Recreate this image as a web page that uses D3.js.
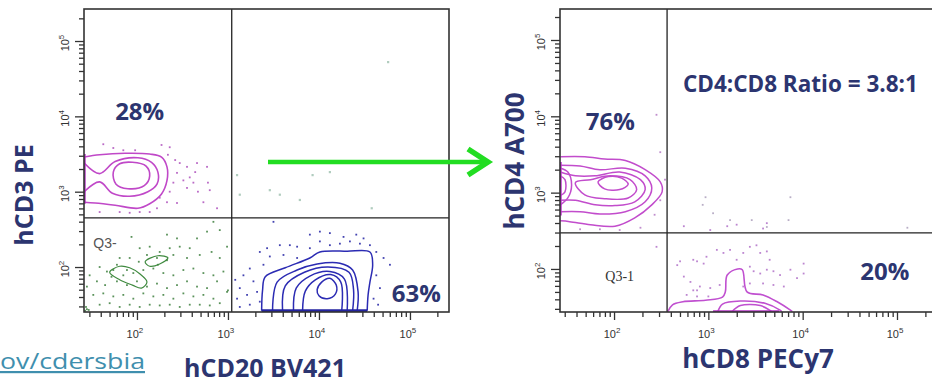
<!DOCTYPE html>
<html><head><meta charset="utf-8">
<script src="https://cdn.jsdelivr.net/npm/d3@7"></script>
<style>body{margin:0;background:#fff;} svg{display:block;}</style>
</head><body>
<svg id="c" width="932" height="384"></svg>
<script>
// ---------------- DATA (log10 fluorescence intensities) ----------------
const majorTicks = [100, 1000, 10000, 100000];
const majorTickExponents = ["2", "3", "4", "5"];
const minorMultipliers = [2, 3, 4, 5, 6, 7, 8, 9];

// gate positions (linear intensity)
const leftGate = { x: 1100, y: 450 };
const rightGate = { x: 365, y: 297 };

// quadrant percentages / annotations  [text, log10 x, log10 y]
const leftLabels = [["28%", 2.03, 3.95], ["63%", 5.07, 1.54]];
const rightLabels = [["76%", 1.96, 3.82], ["20%", 4.87, 1.86]];
const ratioLabel = ["CD4:CD8 Ratio = 3.8:1", 2.73, 4.32];
const leftGateName = ["Q3-", 1.52, 2.25];
const rightGateName = ["Q3-1", 2.06, 1.84];

const leftXLabel = "hCD20 BV421", leftYLabel = "hCD3 PE";
const rightXLabel = "hCD8 PECy7", rightYLabel = "hCD4 A700";
const linkText = "ov/cdersbia";

// Left plot: CD3+ (pink) contours touching the left axis (open) and closed inner ring
const cd3Open = [
  [[1.42,3.46],[1.59,3.49],[1.87,3.51],[2.14,3.50],[2.27,3.46],[2.33,3.33],[2.33,3.15],[2.27,2.97],[2.14,2.84],[2.01,2.78],[1.76,2.82],[1.54,2.85],[1.42,2.86]],
  [[1.42,3.38],[1.59,3.24],[1.76,3.40],[2.01,3.45],[2.16,3.39],[2.23,3.26],[2.22,3.10],[2.12,3.00],[1.92,2.94],[1.73,2.98],[1.59,3.13],[1.42,3.00]]
];
const cd3Closed = [
  [[1.74,3.26],[1.81,3.37],[1.95,3.39],[2.10,3.34],[2.14,3.21],[2.08,3.08],[1.90,3.04],[1.77,3.10]]
];
const cd3Edge = [[1.42,3.50],[1.42,2.84]];
const cd3Dots = [[1.63,3.63],[1.74,3.58],[1.85,3.55],[1.98,3.55],[2.27,3.62],[2.36,3.59],[2.34,3.49],[2.42,3.42],[2.47,3.38],[2.66,3.38],[2.77,3.33],[2.44,3.25],[2.51,3.15],[2.58,3.19],[2.62,3.12],[2.55,3.05],[2.67,3.00],[2.80,3.02],[2.78,3.12],[2.36,3.00],[2.25,2.92],[2.33,2.86],[2.44,2.85],[2.22,2.78],[2.14,2.73],[2.03,2.73],[1.92,2.72],[1.81,2.73],[1.59,2.73],[2.40,3.12],[2.55,3.33],[2.64,3.26],[2.73,2.86],[2.88,2.78]];

// Left plot: double negative (green) events
const dnDots = [[1.94,2.40],[2.03,2.25],[2.14,2.27],[1.81,2.12],[1.92,2.12],[2.02,2.07],[2.11,2.16],[2.22,2.12],[2.33,2.09],[2.40,2.16],[2.47,2.27],[2.58,2.25],[2.66,2.38],[2.77,2.47],[2.84,2.60],[2.91,2.49],[2.33,2.43],[2.44,2.38],[1.59,2.00],[1.67,1.94],[1.74,1.96],[1.85,1.89],[1.96,1.92],[2.07,1.96],[2.18,1.98],[2.29,1.92],[2.40,1.89],[2.51,1.96],[2.62,1.98],[2.73,1.92],[2.84,1.89],[2.95,1.94],[1.56,1.81],[1.65,1.76],[1.78,1.81],[1.89,1.76],[2.00,1.81],[2.11,1.74],[2.22,1.78],[2.33,1.72],[2.44,1.76],[2.55,1.81],[2.66,1.74],[2.77,1.72],[2.88,1.81],[2.99,1.67],[1.52,1.63],[1.63,1.65],[1.74,1.61],[1.85,1.63],[1.96,1.58],[2.07,1.65],[2.18,1.61],[2.29,1.63],[2.40,1.58],[2.51,1.65],[2.62,1.61],[2.73,1.63],[2.84,1.58],[1.59,1.50],[1.70,1.52],[1.81,1.47],[1.92,1.50],[2.03,1.47],[2.14,1.50],[2.25,1.49],[2.36,1.50],[2.47,1.47],[2.58,1.50],[2.69,1.50],[2.80,1.49],[2.91,1.52],[1.78,2.03],[1.89,1.96],[1.72,1.87],[2.23,2.03],[2.55,2.12],[2.69,2.16],[2.82,2.20],[2.36,2.25],[2.25,2.20],[2.91,2.12],[2.99,2.27],[1.48,1.89],[1.45,1.74],[3.00,1.69],[1.43,1.42],[1.45,1.44],[1.44,1.47],[1.47,1.43]];
const dnContours = [
  [[1.70,1.93],[1.81,2.01],[1.92,1.99],[2.03,1.91],[2.11,1.80],[2.05,1.72],[1.95,1.76],[1.81,1.83]],
  [[2.09,2.07],[2.23,2.15],[2.34,2.12],[2.25,2.04],[2.14,2.01]]
];

// Left plot: CD20+ (blue) contours touching the bottom axis (open) and closed inner ring
const cd20Open = [
  [[3.37,1.42],[3.38,1.69],[3.41,1.87],[3.63,1.99],[3.90,2.12],[4.01,2.20],[4.31,2.21],[4.56,2.20],[4.59,2.03],[4.56,1.80],[4.54,1.63],[4.53,1.42]],
  [[3.49,1.42],[3.54,1.80],[3.76,1.96],[3.98,2.04],[4.23,2.05],[4.37,1.96],[4.43,1.67],[4.42,1.42]],
  [[3.60,1.42],[3.63,1.75],[3.84,1.93],[4.10,2.00],[4.33,1.93],[4.38,1.70],[4.37,1.42]],
  [[3.72,1.42],[3.75,1.72],[3.90,1.88],[4.12,1.94],[4.28,1.84],[4.31,1.42]],
  [[3.82,1.42],[3.85,1.68],[3.96,1.83],[4.13,1.90],[4.24,1.80],[4.25,1.42]]
];
const cd20Closed = [
  [[3.98,1.70],[4.03,1.80],[4.12,1.85],[4.19,1.76],[4.18,1.64],[4.09,1.58],[4.00,1.62]]
];
const cd20Edge = [[3.37,1.42],[4.53,1.42]];
const cd20Dots = [[3.50,2.60],[4.01,2.47],[3.90,2.43],[4.12,2.45],[3.68,2.29],[3.76,2.27],[3.43,2.25],[3.57,2.29],[3.35,2.20],[3.46,2.14],[3.61,2.16],[3.76,2.12],[3.90,2.25],[4.01,2.34],[4.12,2.29],[4.23,2.31],[4.34,2.34],[4.45,2.31],[4.56,2.29],[4.63,2.20],[4.71,2.12],[4.78,2.03],[4.63,1.89],[4.67,1.72],[4.60,1.58],[3.24,1.98],[3.17,1.89],[3.28,1.81],[3.13,1.72],[3.21,1.63],[3.32,1.67],[3.10,1.58],[3.24,1.50],[3.13,1.47],[3.35,1.54],[3.39,2.03],[4.41,2.43],[4.27,2.40],[4.49,2.38],[3.08,1.83],[4.65,1.50]];
const leftURDots = [[4.12,3.26],[4.58,2.78],[3.57,2.96],[3.93,3.22],[4.76,4.72],[3.79,2.89],[3.10,3.22],[3.13,2.96],[3.46,3.02]];

// Right plot: CD4+ (pink) contours
const cd4Open = [
  [[1.43,3.47],[1.69,3.47],[1.90,3.44],[2.12,3.42],[2.33,3.30],[2.49,3.14],[2.51,3.01],[2.40,2.84],[2.22,2.67],[2.01,2.56],[1.75,2.58],[1.53,2.62],[1.43,2.63]],
  [[1.43,3.36],[1.64,3.35],[1.85,3.30],[2.12,3.32],[2.33,3.22],[2.40,3.06],[2.33,2.88],[2.12,2.75],[1.85,2.72],[1.64,2.75],[1.43,2.75]],
  [[1.43,3.27],[1.59,3.22],[1.80,3.22],[2.06,3.27],[2.28,3.17],[2.33,3.04],[2.22,2.88],[2.01,2.83],[1.80,2.84],[1.59,2.90],[1.43,2.90]],
  [[1.43,3.32],[1.51,3.27],[1.55,3.10],[1.51,2.93],[1.43,2.84]],
  [[1.43,3.22],[1.48,3.17],[1.48,3.01],[1.43,2.96]]
];
const cd4Closed = [
  [[1.59,3.13],[1.75,3.17],[1.96,3.22],[2.17,3.17],[2.24,3.04],[2.15,2.93],[1.90,2.92],[1.69,2.97]],
  [[1.83,3.14],[1.94,3.21],[2.08,3.19],[2.15,3.11],[2.06,3.04],[1.90,3.05]]
];
const cd4Edge = [[1.43,3.40],[1.43,2.70]];
const cd4Dots = [[2.49,2.90],[2.54,3.17],[2.43,2.71],[2.28,2.54],[2.06,2.51],[1.85,2.52],[1.64,2.52],[2.45,4.02],[2.49,3.53]];

// Right plot: CD8+ (pink) contours
const cd8Open = [
  [[2.57,1.44],[2.62,1.53],[2.73,1.57],[2.97,1.59],[3.15,1.63],[3.18,1.70],[3.20,1.92],[3.31,2.00],[3.36,1.99],[3.41,1.70],[3.58,1.66],[3.73,1.57],[3.87,1.46],[3.89,1.44]],
  [[3.10,1.44],[3.15,1.54],[3.34,1.58],[3.60,1.55],[3.76,1.46],[3.78,1.44]],
  [[3.25,1.44],[3.34,1.52],[3.55,1.52],[3.65,1.46],[3.67,1.44]]
];
const cd8Edge = [[3.05,1.44],[3.75,1.44]];
const cd8Dots = [[2.45,2.29],[2.70,2.10],[2.74,1.90],[2.88,2.10],[2.95,2.07],[2.98,2.16],[3.09,2.25],[3.16,2.21],[3.23,2.25],[3.30,2.12],[3.37,2.21],[3.44,2.29],[3.51,2.31],[3.55,2.21],[3.62,2.23],[3.65,2.12],[3.44,2.03],[3.48,1.97],[3.55,1.94],[3.62,1.99],[3.69,1.97],[3.76,1.92],[3.87,1.99],[3.94,1.88],[4.01,1.94],[3.58,1.81],[3.69,1.79],[3.44,1.81],[3.37,1.77],[2.81,1.83],[2.91,1.77],[3.02,1.75],[3.12,1.79],[2.77,1.66],[2.88,1.64],[4.01,2.07],[3.20,2.56],[3.30,2.58],[3.58,2.53],[3.62,2.60],[3.02,2.51],[2.74,2.56],[2.84,1.72],[3.00,1.64],[3.80,1.77],[2.67,2.05],[2.84,2.12],[2.88,1.72]];
const rightURDots = [[2.97,2.94],[3.05,2.73],[3.23,2.64],[3.46,2.64],[3.62,2.55],[3.85,2.64],[3.87,2.94],[2.94,2.84],[5.11,2.54]];

// ---------------- DRAWING ----------------
const svg = d3.select("#c");
const NAVY = "#2c3570";
const FONT = "'Open Sans', 'DejaVu Sans', sans-serif";
const TICKFONT = "'Liberation Sans', Arial, sans-serif";

function makePanel(cfg) {
  const x = d3.scaleLog().domain(cfg.xDomain).range(cfg.xRange);
  const y = d3.scaleLog().domain(cfg.yDomain).range(cfg.yRange);
  const X = v => x(Math.pow(10, v)), Y = v => y(Math.pow(10, v));
  const g = svg.append("g");
  const id = "clip" + cfg.name;
  svg.append("clipPath").attr("id", id).append("rect")
    .attr("x", cfg.xRange[0]).attr("y", cfg.yRange[1])
    .attr("width", cfg.xRange[1] - cfg.xRange[0]).attr("height", cfg.yRange[0] - cfg.yRange[1]);
  const plot = g.append("g").attr("clip-path", `url(#${id})`);
  return { x, y, X, Y, g, plot };
}

function minorTicks(scale) {
  const [a, b] = scale.domain();
  const out = [];
  for (const d of [10, 100, 1000, 10000, 100000]) for (const m of minorMultipliers) {
    const v = d * m; if (v > a && v < b) out.push(v);
  }
  return out;
}

function drawAxes(p, cfg) {
  const bottom = cfg.yRange[0], left = cfg.xRange[0];
  const ax = d3.axisBottom(p.x).tickValues(majorTicks).tickSize(8).tickFormat("");
  const axm = d3.axisBottom(p.x).tickValues(minorTicks(p.x)).tickSize(5).tickFormat("");
  const ay = d3.axisLeft(p.y).tickValues(majorTicks).tickSize(9).tickFormat("");
  const aym = d3.axisLeft(p.y).tickValues(minorTicks(p.y)).tickSize(5).tickFormat("");
  for (const [a, tr] of [[ax, `translate(0,${bottom})`], [axm, `translate(0,${bottom})`], [ay, `translate(${left},0)`], [aym, `translate(${left},0)`]]) {
    const gg = p.g.append("g").attr("transform", tr).call(a);
    gg.select(".domain").remove();
    gg.selectAll("line").attr("stroke", "#333").attr("stroke-width", 1.3);
  }
  majorTicks.forEach((v, i) => {
    const t = p.g.append("text").attr("x", p.x(v) - 2).attr("y", bottom + 26)
      .attr("text-anchor", "middle").attr("font-family", TICKFONT).attr("font-size", 11).attr("fill", "#333");
    t.append("tspan").text("10");
    t.append("tspan").attr("dy", -5).attr("font-size", 8).text(majorTickExponents[i]);
  });
  majorTicks.forEach((v, i) => {
    const t = p.g.append("text").attr("transform", `translate(${left - 15},${p.y(v) + 2}) rotate(-90)`)
      .attr("text-anchor", "middle").attr("font-family", TICKFONT).attr("font-size", 11).attr("fill", "#333");
    t.append("tspan").text("10");
    t.append("tspan").attr("dy", -5).attr("font-size", 8).text(majorTickExponents[i]);
  });
}

const openLine = (p) => d3.line().x(d => p.X(d[0])).y(d => p.Y(d[1])).curve(d3.curveCatmullRom.alpha(0.5));
const closedLine = (p) => d3.line().x(d => p.X(d[0])).y(d => p.Y(d[1])).curve(d3.curveCatmullRomClosed.alpha(0.5));

function dots(p, data, color, size, op) {
  p.plot.append("g").selectAll("rect").data(data).join("rect")
    .attr("x", d => p.X(d[0]) - size / 2).attr("y", d => p.Y(d[1]) - size / 2)
    .attr("width", size).attr("height", size).attr("fill", color).attr("opacity", op);
}
function contours(p, open, closed, color, w) {
  const g = p.plot.append("g").attr("fill", "none").attr("stroke", color).attr("stroke-width", w).attr("stroke-linejoin", "round");
  g.selectAll("path.o").data(open).join("path").attr("class", "o").attr("d", openLine(p));
  g.selectAll("path.c").data(closed).join("path").attr("class", "c").attr("d", closedLine(p));
}
function edge(p, seg, color, w) {
  p.plot.append("path").attr("d", d3.line().x(d => p.X(d[0])).y(d => p.Y(d[1]))(seg))
    .attr("stroke", color).attr("stroke-width", w).attr("fill", "none");
}
function label(p, l, size, anchor, family, weight, fill) {
  return p.g.append("text").attr("x", p.X(l[1])).attr("y", p.Y(l[2])).attr("text-anchor", anchor)
    .attr("font-family", family).attr("font-weight", weight).attr("font-size", size).attr("fill", fill).text(l[0]);
}

// ---------- LEFT PANEL ----------
const Lcfg = { name: "L", xDomain: [Math.pow(10, 1.418), Math.pow(10, 5.429)], xRange: [84, 449],
  yDomain: [Math.pow(10, 1.403), Math.pow(10, 5.425)], yRange: [312, 9] };
const L = makePanel(Lcfg);
dots(L, leftURDots, "#9cbfae", 2.2, 0.8);
dots(L, dnDots, "#3d7f3d", 1.8, 0.85);
contours(L, [], dnContours, "#3f8a3f", 1.2);
dots(L, cd3Dots, "#b25ac0", 1.8, 0.9);
contours(L, cd3Open, cd3Closed, "#c048c8", 1.6);
edge(L, cd3Edge, "#b030c0", 3);
dots(L, cd20Dots, "#2f2fa8", 1.8, 0.9);
contours(L, cd20Open, cd20Closed, "#2b2bb3", 1.5);
edge(L, cd20Edge, "#2323a0", 3);
L.g.append("line").attr("x1", L.x(leftGate.x)).attr("x2", L.x(leftGate.x)).attr("y1", 9).attr("y2", 312).attr("stroke", "#222").attr("stroke-width", 1.3);
L.g.append("line").attr("x1", 84).attr("x2", 449).attr("y1", L.y(leftGate.y)).attr("y2", L.y(leftGate.y)).attr("stroke", "#222").attr("stroke-width", 1.3);
L.g.append("rect").attr("x", 84).attr("y", 9).attr("width", 365).attr("height", 303).attr("fill", "none").attr("stroke", "#333").attr("stroke-width", 1.6);
drawAxes(L, Lcfg);
leftLabels.forEach(l => label(L, l, 24, "middle", FONT, 700, NAVY));
label(L, leftGateName, 14, "start", TICKFONT, 400, "#555");

// ---------- RIGHT PANEL ----------
const Rcfg = { name: "R", xDomain: [Math.pow(10, 1.427), Math.pow(10, 5.456)], xRange: [560, 940],
  yDomain: [Math.pow(10, 1.436), Math.pow(10, 5.406)], yRange: [312, 9] };
const R = makePanel(Rcfg);
dots(R, rightURDots, "#a89ab8", 1.8, 0.8);
dots(R, cd4Dots, "#b070c0", 1.8, 0.8);
contours(R, cd4Open, cd4Closed, "#c24ccc", 1.5);
edge(R, cd4Edge, "#c040d0", 3);
dots(R, cd8Dots, "#b070c8", 1.8, 0.85);
contours(R, cd8Open, [], "#c050d0", 1.6);
edge(R, cd8Edge, "#b030c0", 3);
R.g.append("line").attr("x1", R.x(rightGate.x)).attr("x2", R.x(rightGate.x)).attr("y1", 9).attr("y2", 312).attr("stroke", "#222").attr("stroke-width", 1.3);
R.g.append("line").attr("x1", 560).attr("x2", 940).attr("y1", R.y(rightGate.y)).attr("y2", R.y(rightGate.y)).attr("stroke", "#222").attr("stroke-width", 1.3);
R.g.append("rect").attr("x", 560).attr("y", 9).attr("width", 380).attr("height", 303).attr("fill", "none").attr("stroke", "#333").attr("stroke-width", 1.6);
drawAxes(R, Rcfg);
rightLabels.forEach(l => label(R, l, 24, "middle", FONT, 700, NAVY));
label(R, ratioLabel, 22.5, "start", FONT, 700, NAVY);
label(R, rightGateName, 14, "middle", "'Liberation Serif', 'DejaVu Serif', serif", 400, "#333");

// ---------- AXIS TITLES ----------
svg.append("text").attr("transform", "translate(33,195) rotate(-90)").attr("text-anchor", "middle")
  .attr("font-family", FONT).attr("font-weight", 700).attr("font-size", 25).attr("fill", NAVY).text(leftYLabel);
svg.append("text").attr("x", 265).attr("y", 377).attr("text-anchor", "middle")
  .attr("font-family", FONT).attr("font-weight", 700).attr("font-size", 25).attr("fill", NAVY).text(leftXLabel);
svg.append("text").attr("transform", "translate(524,161) rotate(-90)").attr("text-anchor", "middle")
  .attr("font-family", FONT).attr("font-weight", 700).attr("font-size", 26).attr("fill", NAVY).text(rightYLabel);
svg.append("text").attr("x", 758).attr("y", 368).attr("text-anchor", "middle")
  .attr("font-family", FONT).attr("font-weight", 700).attr("font-size", 26).attr("fill", NAVY).text(rightXLabel);

// link fragment
svg.append("text").attr("x", 0).attr("y", 369).attr("font-family", FONT).attr("font-size", 22)
  .attr("textLength", 145).attr("lengthAdjust", "spacingAndGlyphs")
  .attr("fill", "#3f8fae").attr("text-decoration", "underline").text(linkText);

// green arrow (annotation)
svg.append("line").attr("x1", 268).attr("x2", 486).attr("y1", 162).attr("y2", 162)
  .attr("stroke", "#22dd22").attr("stroke-width", 4.5);
svg.append("polyline").attr("points", "468,149 488,162 468,175").attr("fill", "none")
  .attr("stroke", "#22dd22").attr("stroke-width", 5.5).attr("stroke-linejoin", "miter");
</script>
</body></html>
